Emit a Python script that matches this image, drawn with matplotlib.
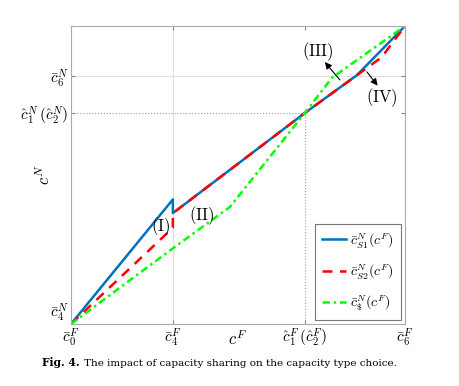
import numpy as np
import matplotlib.pyplot as plt

plt.rcParams['mathtext.fontset'] = 'cm'

# tick positions (normalised)
x_ticks = [0.0, 0.305, 0.70, 1.0]
x_labels = [r'$\bar{c}_0^F$', r'$\bar{c}_4^F$', r'$\hat{c}_1^F\,(\hat{c}_2^F)$', r'$\bar{c}_6^F$']
y_ticks = [0.0, 0.708, 0.832]
y_labels = [r'$\bar{c}_4^N$', r'$\hat{c}_1^N\,(\hat{c}_2^N)$', r'$\bar{c}_6^N$']

# curves
s1_x = [0.0, 0.305, 0.305, 0.70, 0.856, 1.0]
s1_y = [0.0, 0.418, 0.372, 0.708, 0.835, 1.0]
s2_x = [0.0, 0.305, 0.305, 0.70, 0.856, 0.93, 1.0]
s2_y = [0.0, 0.323, 0.372, 0.708, 0.835, 0.895, 1.0]
s3_x = [0.0, 0.305, 0.476, 0.70, 0.781, 1.0]
s3_y = [0.0, 0.254, 0.393, 0.708, 0.826, 1.0]

fig = plt.figure(figsize=(4.59, 3.86), dpi=100)
ax = fig.add_axes([71/459, 62/386, 334/459, 298/386])

ax.axvline(x_ticks[1], color='#e0e0e0', lw=0.8, zorder=0)
ax.axhline(y_ticks[2], color='#e0e0e0', lw=0.8, zorder=0)
ax.plot([x_ticks[2], x_ticks[2]], [0, y_ticks[1]], ':', color='#999999', lw=0.8)
ax.plot([0, x_ticks[2]], [y_ticks[1], y_ticks[1]], ':', color='#999999', lw=0.8)

ax.plot(s1_x, s1_y, '-', color='#0072bd', lw=1.8, label=r'$\bar{c}_{S1}^N(c^F)$')
ax.plot(s2_x, s2_y, '--', color='#ff0000', lw=1.8, dashes=(4, 3), label=r'$\bar{c}_{S2}^N(c^F)$')
ax.plot(s3_x, s3_y, '-.', color='#00ff00', lw=1.8, dashes=(3, 1.5, 1, 1.5), label=r'$\bar{c}_{\$}^N(c^F)$')

ax.text(0.269, 0.326, r'$\mathrm{(I)}$', fontsize=12, ha='center', va='center')
ax.text(0.392, 0.362, r'$\mathrm{(II)}$', fontsize=12, ha='center', va='center')
ax.text(0.740, 0.915, r'$\mathrm{(III)}$', fontsize=12, ha='center', va='center')
ax.text(0.931, 0.758, r'$\mathrm{(IV)}$', fontsize=12, ha='center', va='center')
ax.annotate('', xy=(0.760, 0.879), xytext=(0.805, 0.819),
            arrowprops=dict(arrowstyle='-|>', color='black', lw=0.8, shrinkA=0, shrinkB=0))
ax.annotate('', xy=(0.918, 0.800), xytext=(0.886, 0.846),
            arrowprops=dict(arrowstyle='-|>', color='black', lw=0.8, shrinkA=0, shrinkB=0))

ax.set_xlim(0, 1)
ax.set_ylim(0, 1)
ax.set_xticks(x_ticks)
ax.set_xticklabels(x_labels, fontsize=11)
ax.set_yticks(y_ticks)
ax.set_yticklabels(y_labels, fontsize=11)
ax.get_yticklabels()[0].set_va('bottom')
ax.tick_params(direction='in', top=True, right=True, length=3, color='#888888', pad=2)
for s in ax.spines.values():
    s.set_color('#aaaaaa')
ax.set_xlabel(r'$c^F$', fontsize=12)
ax.xaxis.set_label_coords(0.5, -0.02)
ax.set_ylabel(r'$c^N$', fontsize=12)
ax.yaxis.set_label_coords(-0.05, 0.5)

leg = ax.legend(loc='lower right', fontsize=10, frameon=True, fancybox=False, handlelength=1.7,
                borderaxespad=0.3, labelspacing=0.9, handletextpad=0.3, borderpad=0.5)
leg.get_frame().set_edgecolor('#555555')
leg.get_frame().set_linewidth(0.8)

fig.text(42/459, 1 - 363/386, 'Fig. 4.', fontsize=7.7, fontweight='bold', va='center', family='DejaVu Serif')
fig.text(84/459, 1 - 363/386, 'The impact of capacity sharing on the capacity type choice.', fontsize=7.5,
         va='center', family='DejaVu Serif')

fig.savefig('out.png', dpi=100)
